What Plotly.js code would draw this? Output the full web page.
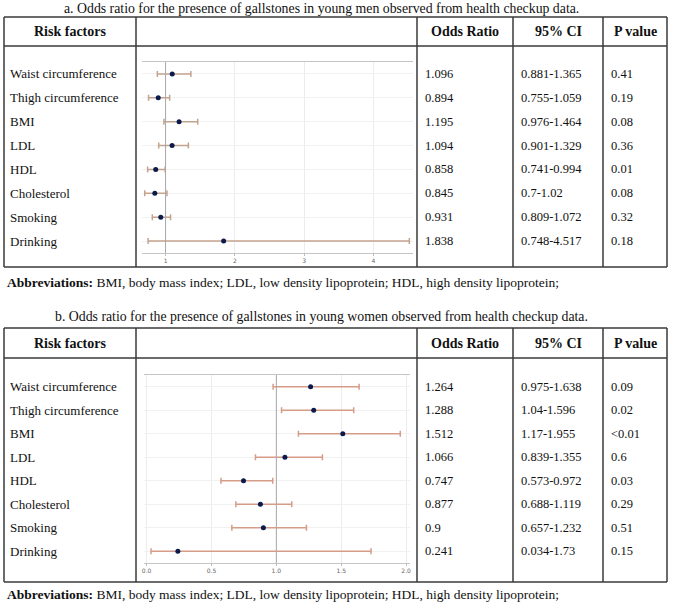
<!DOCTYPE html>
<html>
<head>
<meta charset="utf-8">
<script src="https://cdn.plot.ly/plotly-3.0.1.min.js"></script>
<style>
  html, body { margin: 0; padding: 0; background: #fff; }
  #chart { width: 673px; height: 606px; }
</style>
</head>
<body>
<div id="chart"></div>
<script>
// risk factors shared by both tables
const factors = ['Waist circumference', 'Thigh circumference', 'BMI', 'LDL', 'HDL', 'Cholesterol', 'Smoking', 'Drinking'];

// a. young men
const orMen = [1.096, 0.894, 1.195, 1.094, 0.858, 0.845, 0.931, 1.838];
const lowMen = [0.881, 0.755, 0.976, 0.901, 0.741, 0.7, 0.809, 0.748];
const highMen = [1.365, 1.059, 1.464, 1.329, 0.994, 1.02, 1.072, 4.517];
const pMen = ['0.41', '0.19', '0.08', '0.36', '0.01', '0.08', '0.32', '0.18'];
const ticksMen = [1, 2, 3, 4];

// b. young women
const orWomen = [1.264, 1.288, 1.512, 1.066, 0.747, 0.877, 0.9, 0.241];
const lowWomen = [0.975, 1.04, 1.17, 0.839, 0.573, 0.688, 0.657, 0.034];
const highWomen = [1.638, 1.596, 1.955, 1.355, 0.972, 1.119, 1.232, 1.73];
const pWomen = ['0.09', '0.02', '<0.01', '0.6', '0.03', '0.29', '0.51', '0.15'];
const ticksWomen = [0, 0.5, 1, 1.5, 2];
const tickTextWomen = ['0.0', '0.5', '1.0', '1.5', '2.0'];

const W = 673, H = 606;
const px = x => x / W;
const py = y => 1 - y / H;
const serif = '"Liberation Serif", "Times New Roman", serif';
const lineCol = '#3a3a3a';

const shapes = [];
const annotations = [];

function hline(x0, x1, y) {
  shapes.push({type: 'line', xref: 'paper', yref: 'paper', x0: px(x0), x1: px(x1), y0: py(y), y1: py(y),
    line: {color: lineCol, width: 1.5}});
}
function vline(x, y0, y1) {
  shapes.push({type: 'line', xref: 'paper', yref: 'paper', x0: px(x), x1: px(x), y0: py(y0), y1: py(y1),
    line: {color: lineCol, width: 1.5}});
}
function label(text, x, y, size, opts) {
  annotations.push(Object.assign({
    text: text, xref: 'paper', yref: 'paper', x: px(x), y: py(y),
    showarrow: false, xanchor: 'center', yanchor: 'middle',
    font: {family: serif, size: size, color: '#111'}
  }, opts || {}));
}

// one table: frame, header, row texts (rows tied to the plot's y axis)
function buildTable(top, headBottom, bottom, yref, title, titleY, abbrY, ors, lows, highs, ps) {
  const cols = [4, 136, 417, 513, 603, 667];
  hline(cols[0], cols[5], top);
  hline(cols[0], cols[5], headBottom);
  hline(cols[0], cols[5], bottom);
  cols.forEach(c => vline(c, top, bottom));

  label(title, 321, titleY, 13.8);
  const hy = (top + headBottom) / 2;
  label('<b>Risk factors</b>', (cols[0] + cols[1]) / 2, hy, 14);
  label('<b>Odds Ratio</b>', (cols[2] + cols[3]) / 2, hy, 14);
  label('<b>95% CI</b>', (cols[3] + cols[4]) / 2, hy, 14);
  label('<b>P value</b>', (cols[4] + cols[5]) / 2, hy, 14);

  factors.forEach((f, i) => {
    const row = {yref: yref, y: i, xanchor: 'left'};
    label(f, 8, 0, 13, row);
    label(String(ors[i]), 423, 0, 12.5, row);
    label(lows[i] + '-' + highs[i], 519, 0, 12.5, row);
    label(ps[i], 609, 0, 12.5, row);
  });

  label('<b>Abbreviations:</b> BMI, body mass index; LDL, low density lipoprotein; HDL, high density lipoprotein;',
    5, abbrY, 13.5, {xanchor: 'left'});
}

buildTable(17, 46, 267, 'y',
  'a. Odds ratio for the presence of gallstones in young men observed from health checkup data.', 8, 282,
  orMen, lowMen, highMen, pMen);
buildTable(328, 358, 582, 'y2',
  'b. Odds ratio for the presence of gallstones in young women observed from health checkup data.', 316, 594,
  orWomen, lowWomen, highWomen, pWomen);

// reference line at OR = 1
[['x', 'y'], ['x2', 'y2']].forEach(([xr, yr]) => {
  shapes.push({type: 'line', xref: xr, yref: yr + ' domain', x0: 1, x1: 1, y0: 0, y1: 1,
    line: {color: '#a8a8a8', width: 1}});
});

function forestTrace(ors, lows, highs, xa, ya, barColor) {
  return {
    type: 'scatter', mode: 'markers', xaxis: xa, yaxis: ya,
    x: ors, y: factors.map((f, i) => i),
    marker: {color: '#0b1a4d', size: 5},
    error_x: {
      type: 'data', symmetric: false,
      array: highs.map((h, i) => h - ors[i]),
      arrayminus: lows.map((l, i) => ors[i] - l),
      color: barColor, thickness: 1.5, width: 3
    },
    hoverinfo: 'x', showlegend: false
  };
}

const traces = [
  forestTrace(orMen, lowMen, highMen, 'x', 'y', '#c4a38d'),
  forestTrace(orWomen, lowWomen, highWomen, 'x2', 'y2', '#d69c88')
];

const xCommon = {
  showline: true, mirror: true, linecolor: '#c4c4c4', linewidth: 1,
  showgrid: true, gridcolor: '#ececec', zeroline: false,
  ticks: 'outside', ticklen: 2, tickcolor: '#bbb',
  tickfont: {family: 'DejaVu Sans, sans-serif', size: 6, color: '#666'}, tickmode: 'array'
};
const yCommon = {
  range: [7.5, -0.5], showgrid: true, gridcolor: '#f1f1f1', zeroline: false,
  showticklabels: false, ticks: '', tickmode: 'array', tickvals: factors.map((f, i) => i)
};

const layout = {
  width: W, height: H,
  margin: {l: 0, r: 0, t: 0, b: 0},
  paper_bgcolor: '#fff', plot_bgcolor: '#fff',
  xaxis: Object.assign({}, xCommon, {domain: [px(142), px(413)], range: [0.66, 4.57], anchor: 'y',
    tickvals: ticksMen, ticktext: ticksMen.map(String)}),
  yaxis: Object.assign({}, yCommon, {domain: [py(253), py(62)], anchor: 'x'}),
  xaxis2: Object.assign({}, xCommon, {domain: [px(144), px(410)], range: [-0.02, 2.03], anchor: 'y2',
    tickvals: ticksWomen, ticktext: tickTextWomen}),
  yaxis2: Object.assign({}, yCommon, {domain: [py(563), py(375)], anchor: 'x2'}),
  shapes: shapes,
  annotations: annotations
};

Plotly.newPlot('chart', traces, layout, {displayModeBar: false, staticPlot: true});
</script>
</body>
</html>
